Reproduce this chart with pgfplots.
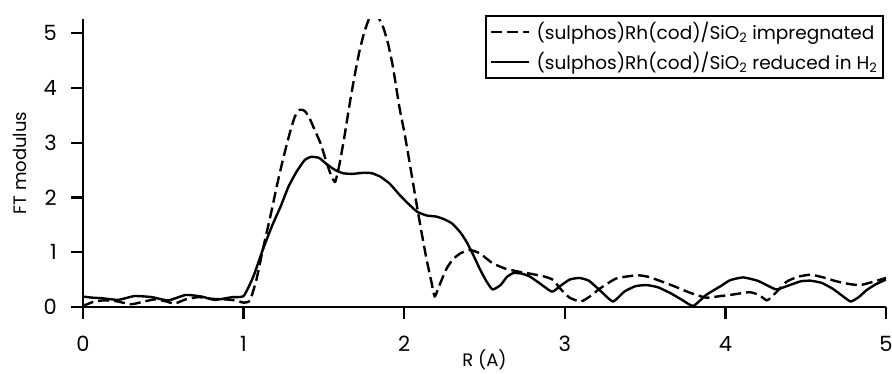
\documentclass[border=0pt]{standalone}
\usepackage{fontspec}
\setmainfont{Poppins}
\usepackage{pgfplots}
\pgfplotsset{compat=1.18}
\pgfplotstableread{
x y
0.00 0.02
0.07 0.10
0.13 0.12
0.20 0.11
0.30 0.05
0.38 0.10
0.45 0.14
0.52 0.10
0.57 0.06
0.64 0.14
0.72 0.18
0.80 0.15
0.88 0.14
0.95 0.12
1.00 0.08
1.04 0.12
1.08 0.50
1.12 1.05
1.17 1.70
1.21 2.25
1.25 2.75
1.29 3.20
1.32 3.48
1.35 3.60
1.38 3.58
1.41 3.45
1.44 3.25
1.48 2.98
1.51 2.70
1.54 2.44
1.57 2.28
1.60 2.65
1.63 3.15
1.66 3.70
1.69 4.20
1.72 4.65
1.75 5.00
1.78 5.25
1.81 5.33
1.84 5.28
1.87 5.10
1.90 4.80
1.93 4.38
1.97 3.65
2.00 3.20
2.02 2.87
2.05 2.35
2.08 1.83
2.11 1.33
2.14 0.86
2.17 0.45
2.19 0.19
2.22 0.40
2.26 0.68
2.30 0.86
2.35 0.98
2.41 1.04
2.47 0.98
2.55 0.80
2.63 0.70
2.72 0.64
2.80 0.60
2.88 0.55
2.93 0.49
2.97 0.34
3.03 0.17
3.10 0.10
3.16 0.20
3.22 0.34
3.32 0.52
3.45 0.58
3.52 0.55
3.59 0.48
3.68 0.38
3.78 0.26
3.88 0.17
3.97 0.20
4.03 0.22
4.15 0.27
4.21 0.22
4.26 0.12
4.32 0.28
4.38 0.46
4.45 0.55
4.53 0.59
4.61 0.54
4.69 0.47
4.77 0.42
4.84 0.40
4.92 0.46
5.00 0.53
}\impregnated
\pgfplotstableread{
x y
0.00 0.19
0.06 0.17
0.12 0.16
0.22 0.13
0.32 0.20
0.43 0.18
0.53 0.12
0.64 0.22
0.74 0.19
0.82 0.13
0.93 0.18
1.00 0.20
1.06 0.55
1.12 1.05
1.18 1.50
1.23 1.83
1.28 2.20
1.33 2.47
1.38 2.68
1.42 2.74
1.47 2.72
1.52 2.60
1.57 2.50
1.62 2.44
1.68 2.43
1.75 2.45
1.80 2.44
1.85 2.38
1.91 2.25
1.97 2.05
2.02 1.90
2.08 1.74
2.14 1.67
2.20 1.65
2.25 1.60
2.30 1.52
2.35 1.36
2.39 1.18
2.43 0.95
2.47 0.70
2.51 0.48
2.55 0.32
2.60 0.40
2.64 0.55
2.68 0.62
2.73 0.61
2.78 0.56
2.84 0.44
2.92 0.28
2.97 0.38
3.03 0.50
3.09 0.53
3.15 0.48
3.22 0.30
3.30 0.10
3.37 0.28
3.44 0.38
3.51 0.40
3.58 0.36
3.66 0.25
3.73 0.13
3.80 0.02
3.88 0.22
3.97 0.38
4.03 0.49
4.11 0.54
4.20 0.48
4.27 0.38
4.32 0.32
4.40 0.40
4.47 0.47
4.53 0.48
4.60 0.44
4.67 0.33
4.73 0.20
4.78 0.10
4.83 0.18
4.88 0.31
4.94 0.42
5.00 0.50
}\reduced
\begin{document}
\fontsize{18pt}{21pt}\selectfont
\begin{tikzpicture}[x=1pt,y=1pt]
\begin{axis}[
  at={(0,0)}, anchor=south west,
  scale only axis, width=803pt, height=287.7pt,
  xmin=0, xmax=5, ymin=0, ymax=5.25,
  axis lines=left, axis line style={-, line width=2.4pt},
  xtick={0,1,2,3,4,5}, ytick={0,1,2,3,4,5},
  tick align=outside, major tick length=12pt,
  tick style={line width=2.2pt, black},
  /pgf/number format/assume math mode=true,
  ticklabel style={font=\fontsize{21pt}{24pt}\selectfont},
  xticklabel style={yshift=-11pt},
  yticklabel style={xshift=-8pt},
  xlabel={R (A)}, ylabel={FT modulus},
  label style={font=\fontsize{18pt}{21pt}\selectfont},
  xlabel style={at={(axis description cs:0.5,0)}, anchor=south, inner sep=0pt, yshift=-63pt},
  ylabel style={at={(axis description cs:0,0.5)}, anchor=south, inner sep=0pt, yshift=56pt},
  legend style={at={(0.998,1.016)}, anchor=north east, draw=black,
    line width=2.2pt, inner sep=4pt, row sep=6pt,
    font=\fontsize{18.5pt}{21pt}\selectfont,
    /tikz/every odd column/.append style={column sep=4pt}},
  legend cell align=left,
  legend image code/.code={\draw[#1, line width=2.4pt] (0pt,0pt) -- (38pt,0pt);},
]
\addplot[black, line width=2.4pt, dash pattern=on 11pt off 5pt, line join=round, smooth, tension=0.3] table {\impregnated};
\addlegendentry{(sulphos)Rh(cod)/SiO\textsubscript{2} impregnated}
\addplot[black, line width=2.4pt, line join=round, smooth, tension=0.3] table {\reduced};
\addlegendentry{(sulphos)Rh(cod)/SiO\textsubscript{2} reduced in H\textsubscript{2}}
\end{axis}
\pgfresetboundingbox
\path[use as bounding box] (-83,-66) rectangle (809,307);
\end{tikzpicture}
\end{document}
